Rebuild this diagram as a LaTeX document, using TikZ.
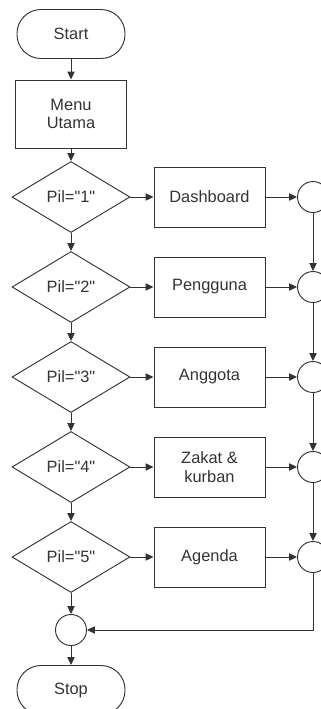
\documentclass[tikz,border=0pt]{standalone}
\usepackage{fontspec}
\setmainfont{Liberation Sans}[Ligatures=TeXOff]
\usetikzlibrary{positioning,shapes.geometric,arrows.meta}

\tikzset{
  every node/.style={font=\fontsize{14}{16}\selectfont, text=black!80},
  line/.style={draw=black!80, line width=0.8pt},
  flow/.style={line, -{Triangle[length=0.24cm,width=0.22cm]}},
  terminal/.style={line, rectangle, rounded corners=0.72cm, minimum width=3.24cm, minimum height=1.47cm},
  process/.style={line, rectangle, minimum width=3.33cm, minimum height=1.8cm, align=center},
  decision/.style={line, diamond, aspect=1.66, minimum width=3.54cm, minimum height=2.13cm, inner sep=0pt},
  joint/.style={line, circle, minimum size=0.93cm, inner sep=0pt},
}

\begin{document}
\begin{tikzpicture}[node distance=2.7cm, on grid]
\useasboundingbox (0,0) rectangle (9.6,-21.27);

\node[terminal] (start) at (2.13,-1.02) {Start};
\node[process, minimum height=2.04cm, below=2.4cm of start] (menu) {Menu\\Utama};
\node[decision, below=2.49cm of menu] (pil1) {Pil="1"};
\node[decision, below=of pil1] (pil2) {Pil="2"};
\node[decision, below=of pil2] (pil3) {Pil="3"};
\node[decision, below=of pil3] (pil4) {Pil="4"};
\node[decision, below=of pil4] (pil5) {Pil="5"};

\node[process, right=4.155cm of pil1] (dashboard) {Dashboard};
\node[process, right=4.155cm of pil2] (pengguna) {Pengguna};
\node[process, right=4.155cm of pil3] (anggota) {Anggota};
\node[process, right=4.155cm of pil4] (zakat) {Zakat \&\\kurban};
\node[process, right=4.155cm of pil5] (agenda) {Agenda};

\node[joint, right=3.105cm of dashboard] (j1) {};
\node[joint, right=3.105cm of pengguna] (j2) {};
\node[joint, right=3.105cm of anggota] (j3) {};
\node[joint, right=3.105cm of zakat] (j4) {};
\node[joint, right=3.105cm of agenda] (j5) {};

\node[joint, below=2.19cm of pil5] (merge) {};
\node[terminal, below=1.8cm of merge] (stop) {Stop};

% main column
\draw[flow] (start) -- (menu);
\draw[flow] (menu) -- (pil1);
\draw[flow] (pil1) -- (pil2);
\draw[flow] (pil2) -- (pil3);
\draw[flow] (pil3) -- (pil4);
\draw[flow] (pil4) -- (pil5);
\draw[flow] (pil5) -- (merge);
\draw[flow] (merge) -- (stop);

% menu choices
\draw[flow] (pil1) -- (dashboard);
\draw[flow] (pil2) -- (pengguna);
\draw[flow] (pil3) -- (anggota);
\draw[flow] (pil4) -- (zakat);
\draw[flow] (pil5) -- (agenda);

\draw[flow] (dashboard) -- (j1);
\draw[flow] (pengguna) -- (j2);
\draw[flow] (anggota) -- (j3);
\draw[flow] (zakat) -- (j4);
\draw[flow] (agenda) -- (j5);

% return line
\draw[flow] (j1) -- (j2);
\draw[flow] (j2) -- (j3);
\draw[flow] (j3) -- (j4);
\draw[flow] (j4) -- (j5);
\draw[flow] (j5) |- (merge);
\end{tikzpicture}
\end{document}
